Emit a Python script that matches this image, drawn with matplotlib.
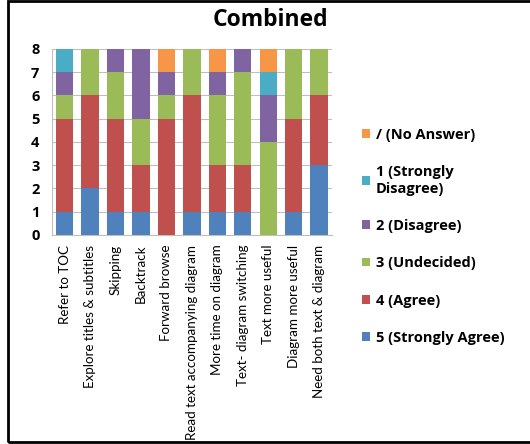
import matplotlib.pyplot as plt
import numpy as np
from matplotlib.patches import Rectangle

categories = ["Refer to TOC", "Explore titles & subtitles", "Skipping", "Backtrack",
              "Forward browse", "Read text accompanying diagram", "More time on diagram",
              "Text- diagram switching", "Text more useful", "Diagram more useful",
              "Need both text & diagram"]

# counts per answer, bottom to top of each stack
strongly_agree = [1, 2, 1, 1, 0, 1, 1, 1, 0, 1, 3]
agree = [4, 4, 4, 2, 5, 5, 2, 2, 0, 4, 3]
undecided = [1, 2, 2, 2, 1, 2, 3, 4, 4, 3, 2]
disagree = [1, 0, 1, 3, 1, 0, 1, 1, 2, 0, 0]
strongly_disagree = [1, 0, 0, 0, 0, 0, 0, 0, 1, 0, 0]
no_answer = [0, 0, 0, 0, 1, 0, 1, 0, 1, 0, 0]

series = [strongly_agree, agree, undecided, disagree, strongly_disagree, no_answer]
labels = ["5 (Strongly Agree)", "4 (Agree)", "3 (Undecided)", "2 (Disagree)",
          "1 (Strongly\nDisagree)", "/ (No Answer)"]
colors = ["#4F81BD", "#C0504D", "#9BBB59", "#8064A2", "#4BACC6", "#F79646"]

plt.rcParams['font.family'] = ['Lato', 'DejaVu Sans']

fig = plt.figure(figsize=(5.30, 4.44), dpi=100)
ax = fig.add_axes([0.098, 0.471, 0.528, 0.419])

x = np.arange(len(categories))
bottom = np.zeros(len(categories))
bars = []
for vals, lab, col in zip(series, labels, colors):
    b = ax.bar(x, vals, bottom=bottom, width=0.68, color=col, label=lab, zorder=3)
    bars.append(b)
    bottom += np.array(vals)

ax.set_xlim(-0.5, len(categories) - 0.5)
ax.set_ylim(0, 8)
ax.set_yticks(range(0, 9))
ax.yaxis.grid(True, color="#BFBFBF", linewidth=0.8, zorder=0)
ax.set_xticks(x)
ax.set_xticklabels(categories, rotation=90, fontsize=9.6)
for t in ax.get_yticklabels():
    t.set_fontweight("bold")
    t.set_fontsize(10.5)
    t.set_family("Open Sans")
ax.tick_params(axis="both", length=0, pad=9)
ax.tick_params(axis="x", pad=7)
for s in ["top", "right"]:
    ax.spines[s].set_visible(False)
for s in ["left", "bottom"]:
    ax.spines[s].set_color("#BFBFBF")

fig.text(0.51, 0.955, "Combined", ha="center", va="center", fontsize=16.5,
         fontweight="bold", family="Open Sans")

handles = bars[::-1]
leg = ax.legend(handles, [labels[i] for i in range(5, -1, -1)], loc="upper left",
                bbox_to_anchor=(1.06, 0.645), frameon=False, handlelength=0.55,
                handleheight=0.55, handletextpad=0.4, labelspacing=1.6,
                prop={"weight": "bold", "size": 10.5, "family": "Open Sans"})

fig.patches.append(Rectangle((0.015, 0.005), 1.0, 0.992, transform=fig.transFigure,
                             fill=False, edgecolor="black", linewidth=2))

fig.savefig("out.png", dpi=100)
